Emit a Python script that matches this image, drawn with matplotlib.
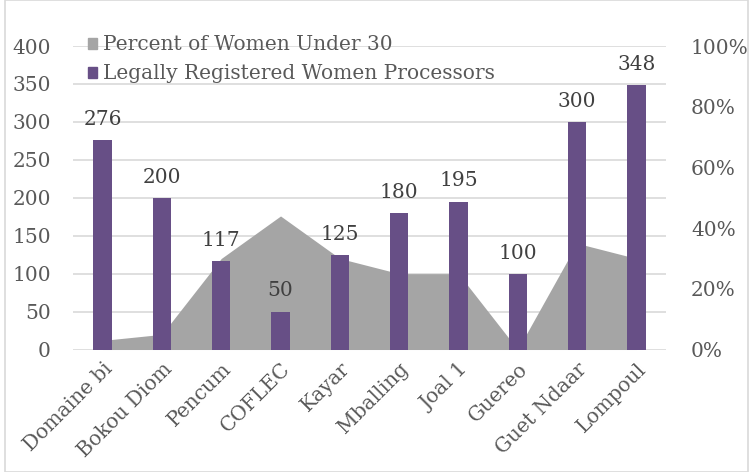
import matplotlib
matplotlib.use("Agg")
import matplotlib.pyplot as plt
from matplotlib.patches import Patch, Rectangle

# Data
sites = ['Domaine bi', 'Bokou Diom', 'Pencum', 'COFLEC', 'Kayar',
         'Mballing', 'Joal 1', 'Guereo', 'Guet Ndaar', 'Lompoul']
processors = [276, 200, 117, 50, 125, 180, 195, 100, 300, 348]
pct_under_30 = [3, 5, 30, 44, 30, 25, 25, 0, 35, 30]
left_ticks = [0, 50, 100, 150, 200, 250, 300, 350, 400]
right_ticks = [0, 20, 40, 60, 80, 100]

bar_color = '#674f86'
area_color = '#a5a5a5'
text_color = '#595959'
grid_color = '#d9d9d9'
fs = 14.5

plt.rcParams['font.family'] = ['DejaVu Serif']

fig = plt.figure(figsize=(7.5, 4.72), dpi=100)
ax = fig.add_axes([0.0973, 0.2595, 0.7907, 0.643])
ax2 = ax.twinx()

# area behind the bars
ax2.set_zorder(ax.get_zorder() - 1)
ax.patch.set_visible(False)

x = list(range(len(sites)))

# gridlines drawn on the area axis so the area covers them
for v in left_ticks:
    ax2.axhline(v / left_ticks[-1] * 100, color=grid_color, lw=1.2, zorder=0)
ax2.fill_between(x, pct_under_30, 0, color=area_color, lw=0, zorder=1)
ax2.set_ylim(0, 100)
ax2.set_yticks(right_ticks)
ax2.set_yticklabels([f'{t}%' for t in right_ticks])

bars = ax.bar(x, processors, width=0.31, color=bar_color, zorder=2)
ax.bar_label(bars, padding=8, fontsize=fs, color='#404040')
ax.set_ylim(0, 400)
ax.set_yticks(left_ticks)
ax.set_xlim(-0.5, len(sites) - 0.5)
ax.set_xticks(x)
ax.set_xticklabels(sites, rotation=45, ha='right', rotation_mode='anchor')

for a in (ax, ax2):
    for s in a.spines.values():
        s.set_visible(False)
    a.tick_params(length=0, labelsize=fs, labelcolor=text_color)
ax.tick_params(axis='y', pad=16)
ax.tick_params(axis='x', pad=7)
ax2.tick_params(axis='y', pad=18)

handles = [Patch(color=area_color, label='Percent of Women Under 30'),
           Patch(color=bar_color, label='Legally Registered Women Processors')]
leg = ax.legend(handles=handles, loc='upper left', bbox_to_anchor=(0.117, 0.925),
                bbox_transform=fig.transFigure, frameon=False, fontsize=fs,
                handlelength=0.45, handleheight=0.45, handletextpad=0.3,
                labelspacing=0.5, borderaxespad=0, borderpad=0)
for t in leg.get_texts():
    t.set_color(text_color)

fig.patches.append(Rectangle((0.007, 0.0), 0.99, 0.999, transform=fig.transFigure,
                             fill=False, edgecolor=grid_color, lw=1.2))

fig.savefig('out.png', dpi=100)
